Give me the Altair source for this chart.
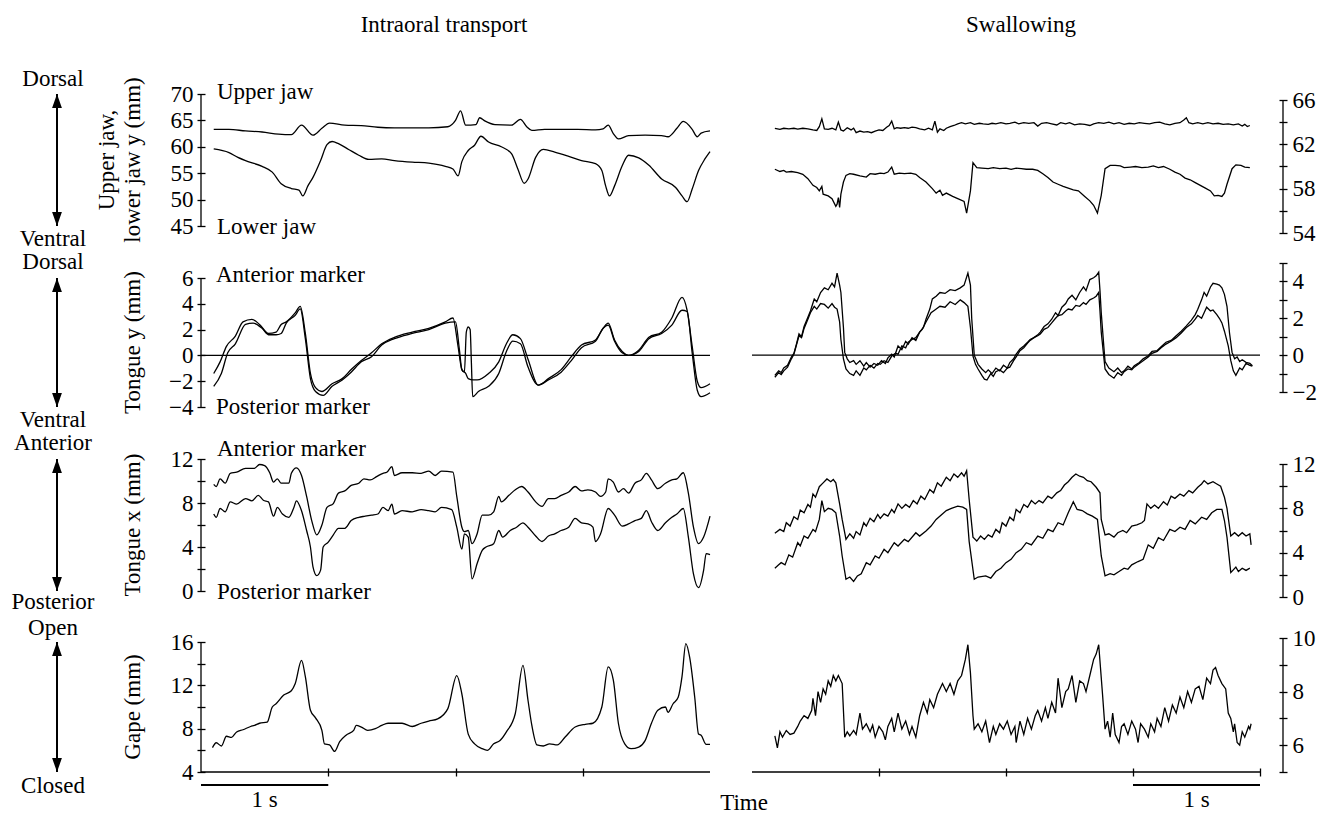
import altair as alt
import pandas as pd

FONT = "Liberation Serif"
FS = 23
INK = "black"

# ---------------- data: (time in s, value in mm) ----------------
L_UPPER_JAW = [(0.10,63.3),(0.22,63.3),(0.35,63.0),(0.48,62.8),(0.61,62.4),(0.71,62.3),(0.79,64.1),(0.88,62.2),(0.95,63.5),(1.01,64.5),(1.13,64.1),(1.26,64.0),(1.39,63.7),(1.52,63.6),(1.66,63.6),(1.79,63.6),(1.94,63.8),(2.00,65.0),(2.04,66.8),(2.08,64.1),(2.16,64.2),(2.19,65.5),(2.23,64.9),(2.31,64.2),(2.44,64.1),(2.51,65.2),(2.56,63.8),(2.60,63.1),(2.70,63.3),(2.83,63.3),(2.96,63.3),(3.10,63.2),(3.16,63.4),(3.20,64.1),(3.24,62.5),(3.28,61.5),(3.36,62.1),(3.49,62.2),(3.62,62.1),(3.67,61.9),(3.74,63.5),(3.79,64.8),(3.86,63.3),(3.90,61.9),(3.93,62.6),(4.00,63.0)]
L_LOWER_JAW = [(0.10,59.6),(0.22,58.9),(0.29,58.0),(0.37,57.2),(0.48,56.3),(0.56,55.2),(0.63,53.0),(0.71,52.1),(0.77,51.8),(0.80,50.7),(0.84,52.6),(0.88,54.2),(0.94,57.4),(0.99,60.4),(1.03,61.0),(1.08,60.6),(1.16,59.5),(1.24,58.4),(1.32,57.6),(1.42,57.7),(1.52,57.4),(1.66,57.1),(1.79,56.9),(1.92,56.3),(1.98,55.8),(2.02,54.5),(2.05,57.2),(2.10,59.3),(2.15,60.3),(2.20,62.0),(2.26,60.9),(2.36,60.0),(2.44,58.7),(2.49,55.8),(2.54,53.1),(2.57,53.9),(2.63,58.0),(2.69,59.5),(2.78,59.0),(2.89,58.2),(2.99,57.4),(3.10,56.8),(3.15,55.5),(3.18,52.6),(3.21,50.7),(3.25,52.6),(3.31,56.4),(3.36,58.4),(3.44,57.9),(3.52,56.5),(3.62,53.9),(3.73,52.3),(3.78,50.7),(3.82,49.6),(3.86,52.0),(3.91,55.5),(3.96,57.7),(4.00,59.1)]

L_TONGUE_Y_ANT = [(0.10,-1.4),(0.15,-0.5),(0.20,0.7),(0.27,1.5),(0.33,2.6),(0.40,2.8),(0.46,2.4),(0.53,1.7),(0.59,1.8),(0.63,2.4),(0.67,2.6),(0.74,3.3),(0.78,3.8),(0.82,1.7),(0.86,-1.4),(0.90,-2.5),(0.95,-2.8),(1.03,-2.2),(1.11,-1.8),(1.18,-1.1),(1.26,-0.4),(1.34,0.2),(1.42,0.9),(1.52,1.4),(1.66,1.8),(1.79,2.1),(1.92,2.6),(1.98,2.9),(2.02,0.7),(2.05,-1.1),(2.08,-1.4),(2.10,-1.8),(2.14,-1.9),(2.17,-1.9),(2.26,-1.4),(2.34,-0.5),(2.40,0.9),(2.45,1.6),(2.51,1.3),(2.57,-0.3),(2.65,-2.3),(2.73,-1.8),(2.83,-1.1),(2.91,-0.1),(2.99,0.8),(3.10,1.2),(3.16,2.1),(3.20,2.5),(3.25,1.2),(3.31,0.3),(3.36,0.0),(3.44,0.4),(3.52,1.4),(3.62,1.8),(3.70,2.9),(3.78,4.5),(3.82,3.5),(3.86,0.7),(3.90,-2.0),(3.93,-2.5),(4.00,-2.2)]
L_TONGUE_Y_POS = [(0.10,-2.4),(0.16,-1.4),(0.21,0.2),(0.27,0.9),(0.35,2.4),(0.41,2.5),(0.48,2.1),(0.53,1.6),(0.59,1.6),(0.63,1.7),(0.67,2.5),(0.74,3.1),(0.78,3.6),(0.82,1.3),(0.86,-1.8),(0.90,-2.8),(0.96,-3.1),(1.03,-2.4),(1.11,-1.9),(1.18,-1.3),(1.26,-0.5),(1.34,-0.1),(1.42,0.8),(1.52,1.3),(1.66,1.7),(1.79,2.0),(1.92,2.5),(2.00,2.6),(2.03,0.5),(2.05,-1.1),(2.07,-1.3),(2.085,1.8),(2.10,2.2),(2.115,2.0),(2.125,-0.6),(2.135,-3.2),(2.18,-2.8),(2.26,-2.4),(2.34,-1.4),(2.40,0.3),(2.45,1.1),(2.51,0.9),(2.57,-0.9),(2.65,-2.3),(2.73,-1.9),(2.83,-1.3),(2.91,-0.4),(2.99,0.6),(3.10,1.1),(3.16,2.1),(3.20,2.35),(3.25,1.1),(3.31,0.2),(3.36,0.0),(3.44,0.3),(3.52,1.3),(3.62,1.7),(3.70,2.35),(3.78,3.5),(3.82,3.4),(3.86,0.2),(3.90,-2.7),(3.93,-3.2),(4.00,-2.9)]

L_TONGUE_X_ANT = [(0.10,9.7),(0.12,9.5),(0.15,10.2),(0.19,9.8),(0.23,10.7),(0.28,10.8),(0.35,11.15),(0.42,11.15),(0.46,11.5),(0.50,11.4),(0.54,10.75),(0.57,9.9),(0.60,10.2),(0.63,9.8),(0.69,9.8),(0.71,10.7),(0.75,11.2),(0.79,10.5),(0.83,8.6),(0.87,6.4),(0.91,5.1),(0.95,6.0),(0.99,7.6),(1.04,7.95),(1.08,8.9),(1.13,9.1),(1.18,9.6),(1.24,9.8),(1.28,10.2),(1.33,10.1),(1.38,10.4),(1.43,10.7),(1.46,10.8),(1.50,11.3),(1.52,10.5),(1.58,10.75),(1.66,10.75),(1.73,10.7),(1.79,10.9),(1.84,10.5),(1.89,10.9),(1.98,10.8),(2.01,8.6),(2.05,5.8),(2.07,5.4),(2.10,5.5),(2.13,4.3),(2.17,5.2),(2.21,6.9),(2.26,6.9),(2.30,7.2),(2.34,8.6),(2.36,8.1),(2.42,8.7),(2.47,9.2),(2.52,9.5),(2.57,9.0),(2.63,8.1),(2.68,7.7),(2.73,8.4),(2.78,8.4),(2.83,8.7),(2.89,9.0),(2.94,9.5),(2.99,9.1),(3.04,9.2),(3.10,9.0),(3.14,8.6),(3.18,9.0),(3.20,10.2),(3.24,9.9),(3.28,9.0),(3.32,9.3),(3.36,8.9),(3.41,9.8),(3.46,10.1),(3.50,10.7),(3.54,10.1),(3.59,9.3),(3.65,9.8),(3.70,10.1),(3.74,10.2),(3.79,10.75),(3.83,8.9),(3.87,5.8),(3.91,4.3),(3.95,4.9),(4.00,6.8)]
L_TONGUE_X_POS = [(0.10,7.0),(0.12,6.7),(0.15,7.5),(0.19,7.2),(0.23,8.1),(0.28,7.9),(0.35,8.4),(0.40,8.2),(0.45,8.7),(0.49,8.25),(0.53,8.1),(0.57,6.8),(0.60,7.6),(0.64,7.0),(0.69,6.7),(0.73,7.6),(0.75,8.2),(0.79,7.3),(0.83,5.5),(0.86,4.0),(0.88,2.2),(0.91,1.4),(0.94,1.9),(0.96,4.0),(1.00,4.45),(1.04,5.1),(1.08,5.7),(1.13,5.7),(1.18,6.4),(1.24,6.7),(1.29,6.8),(1.34,6.9),(1.39,7.0),(1.43,7.6),(1.47,7.3),(1.50,7.9),(1.52,7.0),(1.58,7.3),(1.66,7.2),(1.73,7.4),(1.79,7.3),(1.84,7.2),(1.89,7.6),(1.97,7.4),(2.01,5.8),(2.05,3.8),(2.07,5.2),(2.10,4.9),(2.13,1.1),(2.17,2.5),(2.21,3.7),(2.24,4.0),(2.30,4.3),(2.34,5.5),(2.37,4.9),(2.43,5.5),(2.48,5.8),(2.53,6.2),(2.57,5.8),(2.63,5.0),(2.68,4.5),(2.73,5.0),(2.78,5.2),(2.83,5.5),(2.89,5.8),(2.94,6.6),(2.99,6.2),(3.04,6.1),(3.08,5.8),(3.10,4.5),(3.14,5.2),(3.20,7.5),(3.25,6.9),(3.31,5.9),(3.36,6.1),(3.41,6.4),(3.46,6.6),(3.50,7.3),(3.54,6.3),(3.59,5.5),(3.65,6.2),(3.70,6.7),(3.74,7.0),(3.79,7.5),(3.83,4.9),(3.87,1.55),(3.91,0.3),(3.95,1.9),(3.97,3.4),(4.00,3.3)]

L_GAPE = [(0.09,6.25),(0.12,6.7),(0.16,6.4),(0.20,7.3),(0.24,7.2),(0.28,7.7),(0.33,7.9),(0.39,8.2),(0.42,8.3),(0.46,8.5),(0.52,8.6),(0.56,10.0),(0.59,10.3),(0.65,11.1),(0.71,11.5),(0.74,12.15),(0.79,14.3),(0.82,12.8),(0.86,9.7),(0.90,9.0),(0.95,7.85),(0.97,6.6),(1.01,6.5),(1.05,5.9),(1.09,6.8),(1.14,7.4),(1.20,7.85),(1.22,8.3),(1.26,8.15),(1.31,7.85),(1.37,8.0),(1.42,8.3),(1.47,8.5),(1.58,8.5),(1.66,8.2),(1.73,8.5),(1.79,8.7),(1.86,8.9),(1.94,9.85),(2.01,12.9),(2.05,11.2),(2.10,7.5),(2.15,6.6),(2.21,6.15),(2.25,6.0),(2.30,6.6),(2.35,6.9),(2.40,7.7),(2.47,9.4),(2.53,13.85),(2.57,10.6),(2.60,8.3),(2.64,6.5),(2.69,6.4),(2.74,6.6),(2.80,6.5),(2.86,7.2),(2.94,8.15),(3.02,8.4),(3.08,8.5),(3.15,10.0),(3.20,13.7),(3.24,12.5),(3.28,8.5),(3.33,6.6),(3.38,6.15),(3.44,6.3),(3.49,6.9),(3.54,8.5),(3.59,9.7),(3.65,10.0),(3.67,9.5),(3.71,10.3),(3.75,10.9),(3.78,12.8),(3.81,15.85),(3.84,14.6),(3.88,10.9),(3.91,7.5),(3.93,7.4),(3.97,6.55),(4.00,6.55)]

R_UPPER_JAW = [(0.18,63.45),(0.22,63.35),(0.25,63.45),(0.29,63.40),(0.33,63.45),(0.36,63.38),(0.40,63.45),(0.44,63.40),(0.48,63.30),(0.51,63.25),(0.53,63.60),(0.55,64.30),(0.57,63.40),(0.60,63.35),(0.63,63.45),(0.66,63.30),(0.68,64.00),(0.70,63.30),(0.72,63.20),(0.75,63.50),(0.78,63.30),(0.80,63.45),(0.82,63.05),(0.85,63.20),(0.88,63.10),(0.91,63.15),(0.94,63.05),(0.97,63.20),(1.00,63.30),(1.03,63.25),(1.06,63.55),(1.08,63.70),(1.10,64.10),(1.12,63.40),(1.14,63.50),(1.17,63.45),(1.20,63.50),(1.23,63.45),(1.26,63.55),(1.29,63.50),(1.32,63.40),(1.36,63.30),(1.39,63.45),(1.42,63.30),(1.44,64.10),(1.46,63.10),(1.48,63.40),(1.51,63.25),(1.53,63.45),(1.56,63.60),(1.59,63.70),(1.62,63.85),(1.65,63.95),(1.68,63.85),(1.72,63.95),(1.75,63.80),(1.79,63.90),(1.82,63.85),(1.86,63.80),(1.89,63.90),(1.92,63.85),(1.96,63.95),(2.00,63.85),(2.03,63.90),(2.07,64.00),(2.10,63.85),(2.14,63.95),(2.18,63.90),(2.22,63.95),(2.25,63.65),(2.28,63.90),(2.32,63.95),(2.36,63.85),(2.40,63.75),(2.43,63.95),(2.47,63.85),(2.50,63.95),(2.54,63.75),(2.58,63.85),(2.62,63.80),(2.66,63.70),(2.69,63.85),(2.73,63.95),(2.77,63.90),(2.81,64.00),(2.85,63.85),(2.89,63.95),(2.93,63.80),(2.97,63.90),(3.01,63.85),(3.05,63.95),(3.09,63.90),(3.13,63.85),(3.17,63.95),(3.21,64.00),(3.25,63.85),(3.29,63.75),(3.33,63.90),(3.37,63.95),(3.40,64.20),(3.42,64.40),(3.44,63.95),(3.47,63.85),(3.51,63.95),(3.55,63.85),(3.59,63.95),(3.63,63.85),(3.67,63.90),(3.71,63.80),(3.75,63.85),(3.79,63.75),(3.83,63.85),(3.86,63.65),(3.88,63.80),(3.90,63.60),(3.92,63.70)]
R_LOWER_JAW = [(0.18,59.75),(0.22,59.55),(0.25,59.65),(0.27,59.50),(0.31,59.55),(0.36,59.45),(0.40,59.30),(0.44,58.90),(0.48,58.30),(0.51,58.10),(0.53,57.80),(0.55,58.20),(0.56,57.50),(0.60,57.35),(0.63,57.10),(0.66,56.40),(0.67,56.60),(0.68,57.20),(0.69,56.30),(0.70,57.50),(0.72,58.60),(0.74,59.20),(0.77,59.35),(0.80,59.30),(0.85,59.15),(0.90,59.05),(0.93,59.35),(0.97,59.30),(1.01,59.40),(1.04,59.35),(1.07,59.50),(1.10,59.95),(1.12,59.30),(1.16,59.40),(1.20,59.35),(1.25,59.40),(1.29,59.30),(1.32,59.00),(1.37,58.60),(1.42,58.00),(1.45,57.60),(1.48,57.85),(1.50,57.40),(1.53,57.60),(1.58,57.30),(1.62,57.10),(1.67,56.85),(1.69,55.80),(1.72,57.80),(1.74,60.35),(1.77,59.90),(1.81,59.85),(1.86,59.80),(1.90,59.90),(1.95,59.80),(2.00,59.85),(2.04,59.75),(2.08,59.85),(2.12,59.80),(2.16,59.75),(2.21,59.75),(2.25,59.65),(2.29,59.35),(2.33,59.00),(2.37,58.60),(2.41,58.40),(2.45,58.20),(2.49,58.05),(2.53,57.90),(2.57,57.80),(2.62,57.30),(2.66,56.90),(2.69,56.50),(2.72,55.80),(2.75,57.40),(2.78,59.80),(2.82,60.10),(2.86,60.10),(2.90,60.05),(2.93,59.90),(2.98,59.95),(3.02,60.00),(3.07,59.90),(3.12,59.95),(3.16,60.05),(3.20,59.90),(3.24,60.00),(3.29,59.75),(3.33,59.50),(3.37,59.30),(3.41,58.95),(3.45,58.80),(3.49,58.55),(3.53,58.30),(3.57,58.05),(3.61,57.80),(3.64,57.35),(3.67,57.40),(3.70,57.30),(3.72,57.60),(3.74,58.40),(3.78,59.80),(3.81,60.15),(3.85,60.10),(3.88,59.95),(3.92,59.90)]

R_TONGUE_Y_ANT = [(0.18,-1.10),(0.21,-0.85),(0.23,-0.95),(0.25,-0.70),(0.28,-0.55),(0.31,-0.10),(0.33,0.10),(0.35,0.60),(0.37,1.15),(0.39,1.00),(0.41,1.55),(0.44,2.05),(0.46,2.40),(0.49,3.05),(0.51,2.90),(0.54,3.40),(0.57,3.65),(0.60,3.55),(0.63,3.90),(0.65,3.70),(0.67,4.45),(0.69,3.80),(0.70,3.40),(0.72,1.50),(0.73,0.15),(0.75,-0.20),(0.77,-0.40),(0.80,-0.30),(0.82,-0.50),(0.85,-0.30),(0.88,-0.60),(0.90,-0.40),(0.93,-0.65),(0.96,-0.45),(0.99,-0.55),(1.02,-0.30),(1.05,-0.45),(1.07,-0.15),(1.10,0.05),(1.12,-0.10),(1.15,0.50),(1.18,0.30),(1.21,0.75),(1.23,0.60),(1.26,0.95),(1.29,0.80),(1.32,1.25),(1.35,1.50),(1.37,1.95),(1.40,2.50),(1.42,3.05),(1.45,3.20),(1.48,3.40),(1.52,3.35),(1.56,3.55),(1.60,3.50),(1.64,3.65),(1.67,3.80),(1.70,4.45),(1.72,3.80),(1.73,2.00),(1.75,0.00),(1.78,-0.50),(1.81,-0.75),(1.84,-0.95),(1.86,-0.80),(1.89,-1.00),(1.92,-0.70),(1.95,-0.85),(1.98,-0.55),(2.01,-0.70),(2.03,-0.40),(2.06,-0.20),(2.08,0.05),(2.11,0.33),(2.14,0.50),(2.17,0.70),(2.19,0.85),(2.22,0.95),(2.25,1.10),(2.27,1.25),(2.30,1.55),(2.33,1.70),(2.36,1.95),(2.39,2.30),(2.41,2.15),(2.44,2.60),(2.47,2.80),(2.49,3.05),(2.52,3.25),(2.55,3.00),(2.58,3.40),(2.61,3.70),(2.63,3.50),(2.66,4.10),(2.69,4.20),(2.71,4.30),(2.73,4.50),(2.74,3.50),(2.75,2.30),(2.77,0.50),(2.78,-0.35),(2.81,-0.70),(2.85,-0.90),(2.88,-0.70),(2.91,-0.95),(2.93,-0.85),(2.96,-0.60),(2.99,-0.75),(3.01,-0.57),(3.05,-0.40),(3.08,-0.20),(3.12,-0.03),(3.15,0.20),(3.19,0.25),(3.23,0.51),(3.26,0.70),(3.30,0.80),(3.34,1.05),(3.38,1.30),(3.42,1.59),(3.46,1.90),(3.49,2.20),(3.51,2.49),(3.54,3.00),(3.56,3.40),(3.58,3.20),(3.61,3.70),(3.63,3.90),(3.66,3.85),(3.68,3.80),(3.70,3.65),(3.72,3.30),(3.74,2.65),(3.76,1.20),(3.78,0.15),(3.80,-0.20),(3.82,-0.10),(3.84,-0.35),(3.86,-0.25),(3.89,-0.39),(3.92,-0.45),(3.94,-0.57)]
R_TONGUE_Y_POS = [(0.18,-1.20),(0.21,-0.95),(0.23,-1.05),(0.25,-0.85),(0.28,-0.65),(0.31,-0.20),(0.33,0.05),(0.35,0.55),(0.37,1.05),(0.39,0.95),(0.41,1.45),(0.44,1.95),(0.46,2.30),(0.49,2.65),(0.51,2.50),(0.54,2.80),(0.57,2.75),(0.60,2.55),(0.63,2.80),(0.65,2.60),(0.67,2.50),(0.69,1.80),(0.70,0.85),(0.72,-0.20),(0.74,-0.75),(0.77,-1.00),(0.80,-1.10),(0.82,-0.85),(0.85,-1.10),(0.88,-0.70),(0.90,-0.80),(0.93,-0.55),(0.96,-0.70),(0.99,-0.45),(1.01,-0.50),(1.04,-0.30),(1.07,-0.40),(1.10,-0.05),(1.13,0.10),(1.15,0.05),(1.18,0.50),(1.21,0.40),(1.23,0.70),(1.26,0.85),(1.29,0.95),(1.32,1.25),(1.34,1.40),(1.37,1.80),(1.41,2.30),(1.44,2.45),(1.48,2.65),(1.52,2.60),(1.56,2.90),(1.60,2.75),(1.64,3.00),(1.67,2.85),(1.70,2.65),(1.72,1.50),(1.74,-0.05),(1.76,-0.50),(1.78,-0.75),(1.81,-1.10),(1.83,-1.30),(1.85,-1.35),(1.88,-1.00),(1.90,-1.15),(1.92,-0.90),(1.95,-0.80),(1.98,-0.95),(2.01,-0.70),(2.03,-0.65),(2.06,-0.30),(2.08,-0.10),(2.11,0.24),(2.14,0.40),(2.17,0.65),(2.19,0.80),(2.22,0.95),(2.25,1.05),(2.27,1.15),(2.30,1.40),(2.33,1.50),(2.36,1.75),(2.39,2.00),(2.41,2.15),(2.44,2.20),(2.47,2.40),(2.49,2.50),(2.52,2.45),(2.55,2.70),(2.58,2.65),(2.61,2.85),(2.63,2.75),(2.66,3.00),(2.69,3.10),(2.71,3.20),(2.73,3.40),(2.74,2.40),(2.75,1.25),(2.77,-0.10),(2.78,-0.75),(2.81,-1.05),(2.85,-1.25),(2.88,-0.95),(2.91,-1.10),(2.93,-0.90),(2.96,-0.75),(2.99,-0.80),(3.01,-0.65),(3.05,-0.45),(3.08,-0.30),(3.12,-0.10),(3.15,0.10),(3.19,0.20),(3.23,0.45),(3.26,0.60),(3.30,0.75),(3.34,0.95),(3.38,1.20),(3.42,1.50),(3.46,1.70),(3.49,1.95),(3.51,2.15),(3.54,2.00),(3.56,2.30),(3.58,2.60),(3.61,2.40),(3.63,2.45),(3.66,2.20),(3.68,2.00),(3.70,1.75),(3.72,1.30),(3.75,0.50),(3.77,-0.30),(3.79,-0.85),(3.81,-1.10),(3.84,-0.70),(3.86,-0.80),(3.89,-0.45),(3.92,-0.55),(3.94,-0.60)]

R_TONGUE_X_ANT = [(0.18,5.75),(0.22,6.10),(0.25,5.90),(0.27,6.70),(0.30,6.40),(0.33,7.25),(0.36,7.00),(0.38,7.85),(0.41,7.60),(0.44,8.35),(0.46,8.10),(0.48,9.30),(0.50,9.00),(0.53,9.95),(0.56,10.30),(0.59,10.65),(0.62,10.40),(0.64,10.60),(0.66,10.30),(0.69,8.40),(0.71,7.00),(0.74,5.20),(0.77,5.70),(0.80,5.30),(0.82,5.90),(0.85,5.60),(0.88,6.70),(0.90,6.40),(0.93,7.10),(0.96,6.80),(0.99,7.45),(1.01,7.10),(1.04,7.50),(1.07,7.30),(1.10,7.90),(1.12,7.60),(1.15,8.40),(1.18,8.00),(1.21,8.35),(1.24,8.10),(1.27,8.70),(1.30,8.40),(1.33,9.10),(1.36,8.80),(1.40,9.70),(1.43,9.40),(1.46,10.30),(1.49,10.00),(1.53,10.80),(1.56,10.50),(1.59,11.10),(1.62,10.80),(1.65,11.20),(1.67,10.90),(1.69,11.40),(1.71,8.80),(1.74,5.40),(1.77,5.05),(1.80,5.50),(1.83,5.20),(1.86,5.60),(1.89,5.40),(1.92,6.10),(1.95,5.80),(1.97,6.70),(2.00,6.40),(2.03,7.20),(2.06,6.90),(2.08,7.90),(2.11,7.60),(2.14,8.35),(2.17,8.10),(2.20,8.70),(2.23,8.40),(2.26,8.70),(2.29,8.50),(2.33,9.10),(2.36,8.90),(2.40,9.40),(2.43,9.60),(2.46,10.10),(2.49,10.40),(2.52,10.80),(2.55,11.10),(2.58,10.90),(2.61,10.80),(2.64,10.50),(2.67,10.40),(2.71,9.90),(2.74,9.40),(2.75,7.00),(2.78,5.60),(2.81,5.70),(2.85,5.40),(2.88,5.80),(2.92,6.00),(2.95,5.80),(2.99,6.40),(3.03,6.50),(3.07,6.70),(3.09,6.90),(3.11,8.40),(3.14,8.00),(3.17,8.30),(3.20,8.00),(3.24,8.60),(3.27,8.30),(3.30,9.10),(3.33,8.90),(3.37,9.30),(3.40,9.10),(3.44,9.60),(3.47,9.40),(3.51,9.90),(3.54,10.20),(3.56,10.50),(3.59,10.20),(3.63,10.40),(3.66,10.20),(3.69,10.00),(3.72,9.00),(3.74,8.00),(3.77,5.50),(3.80,5.80),(3.83,5.50),(3.86,5.80),(3.89,5.50),(3.92,5.70),(3.93,4.70)]
R_TONGUE_X_POS = [(0.18,2.60),(0.21,2.90),(0.23,3.10),(0.26,2.90),(0.29,3.80),(0.32,3.60),(0.36,4.90),(0.38,4.60),(0.41,5.50),(0.44,5.30),(0.48,6.10),(0.50,5.90),(0.53,7.00),(0.55,8.70),(0.57,7.70),(0.60,8.00),(0.63,7.90),(0.66,7.60),(0.69,5.50),(0.71,3.70),(0.74,1.60),(0.77,1.80),(0.80,1.40),(0.83,1.90),(0.86,2.10),(0.90,3.10),(0.93,2.90),(0.97,3.70),(1.00,3.50),(1.04,4.30),(1.07,4.00),(1.12,4.90),(1.15,4.60),(1.20,5.20),(1.23,5.00),(1.29,5.80),(1.32,5.50),(1.37,5.95),(1.41,6.40),(1.45,7.00),(1.49,7.40),(1.53,7.80),(1.57,8.00),(1.62,8.20),(1.66,8.10),(1.69,7.90),(1.71,5.00),(1.75,1.60),(1.78,1.80),(1.84,1.90),(1.88,1.70),(1.92,2.30),(1.96,2.60),(2.00,3.10),(2.04,3.40),(2.08,4.00),(2.12,4.30),(2.16,4.90),(2.20,4.70),(2.25,5.50),(2.29,5.30),(2.33,6.10),(2.37,5.90),(2.41,6.70),(2.45,6.50),(2.49,7.60),(2.53,8.60),(2.56,7.90),(2.60,7.80),(2.64,7.50),(2.68,7.30),(2.72,7.00),(2.75,3.70),(2.78,1.90),(2.82,2.10),(2.85,2.00),(2.89,2.30),(2.93,2.60),(2.96,2.50),(2.99,2.90),(3.04,3.20),(3.08,3.40),(3.12,4.70),(3.16,4.40),(3.20,5.35),(3.24,5.10),(3.29,6.10),(3.33,5.90),(3.37,6.30),(3.41,6.10),(3.45,6.90),(3.49,6.60),(3.54,7.20),(3.58,7.00),(3.62,7.60),(3.66,7.90),(3.70,7.90),(3.72,6.90),(3.74,5.40),(3.77,2.20),(3.81,2.70),(3.83,2.30),(3.86,2.60),(3.89,2.40),(3.92,2.60)]

R_GAPE = [(0.18,6.35),(0.20,5.90),(0.22,6.50),(0.24,6.30),(0.27,6.55),(0.30,6.40),(0.33,6.45),(0.36,6.70),(0.38,6.90),(0.41,7.10),(0.44,7.00),(0.47,7.30),(0.48,7.75),(0.50,7.10),(0.52,8.00),(0.54,7.60),(0.56,8.10),(0.58,7.90),(0.60,8.40),(0.62,8.20),(0.64,8.60),(0.66,8.40),(0.68,8.60),(0.71,8.30),(0.73,6.30),(0.75,6.50),(0.77,6.35),(0.80,6.55),(0.82,6.40),(0.85,7.20),(0.87,6.60),(0.90,6.80),(0.93,6.50),(0.95,6.75),(0.97,6.30),(1.00,6.70),(1.03,6.50),(1.05,6.20),(1.07,6.70),(1.10,7.00),(1.12,6.50),(1.15,7.20),(1.18,6.60),(1.21,6.90),(1.24,6.40),(1.26,6.70),(1.29,6.30),(1.32,7.10),(1.35,7.60),(1.38,7.20),(1.40,7.70),(1.43,7.40),(1.46,7.90),(1.50,8.30),(1.53,8.00),(1.56,8.30),(1.59,7.90),(1.62,8.40),(1.65,8.60),(1.68,9.20),(1.70,9.75),(1.72,8.70),(1.74,7.10),(1.75,6.60),(1.78,6.80),(1.81,6.50),(1.84,6.90),(1.87,6.10),(1.90,6.70),(1.92,6.40),(1.95,6.80),(1.98,6.60),(2.01,6.90),(2.04,6.40),(2.07,6.70),(2.08,6.10),(2.11,6.90),(2.14,6.40),(2.17,7.00),(2.20,6.60),(2.23,7.10),(2.25,7.30),(2.28,6.90),(2.31,7.40),(2.33,7.00),(2.36,7.60),(2.39,7.20),(2.41,8.50),(2.44,7.40),(2.47,8.00),(2.49,8.10),(2.52,8.60),(2.55,7.60),(2.58,8.40),(2.61,8.30),(2.63,8.00),(2.66,8.60),(2.69,9.20),(2.71,9.40),(2.73,9.75),(2.76,7.90),(2.78,6.60),(2.80,6.90),(2.82,6.30),(2.84,7.20),(2.86,6.40),(2.89,6.10),(2.91,6.70),(2.93,6.80),(2.96,6.40),(2.99,6.90),(3.02,6.60),(3.04,6.10),(3.06,6.80),(3.09,6.60),(3.12,6.30),(3.14,6.80),(3.17,6.50),(3.19,7.00),(3.22,6.70),(3.25,7.40),(3.28,6.90),(3.31,7.50),(3.34,7.20),(3.37,7.80),(3.40,7.40),(3.43,8.00),(3.46,7.60),(3.49,8.10),(3.52,8.20),(3.55,7.70),(3.58,8.50),(3.61,8.30),(3.63,8.80),(3.65,8.90),(3.67,8.60),(3.70,8.30),(3.73,8.10),(3.75,7.20),(3.77,7.00),(3.79,6.50),(3.80,6.80),(3.82,6.10),(3.84,6.00),(3.86,6.50),(3.88,6.30),(3.91,6.70),(3.92,6.60),(3.93,6.80)]

# axis ticks and which of them carry labels
L1_TICKS, L1_LAB = [45, 50, 55, 60, 65, 70], [45, 50, 55, 60, 65, 70]
L2_TICKS, L2_LAB = [-4, -2, 0, 2, 4, 6], [-4, -2, 0, 2, 4, 6]
L3_TICKS, L3_LAB = [0, 2, 4, 6, 8, 10, 12], [0, 4, 8, 12]
L4_TICKS, L4_LAB = [4, 6, 8, 10, 12, 14, 16], [4, 8, 12, 16]
R1_TICKS, R1_LAB = [54, 56, 58, 60, 62, 64, 66], [54, 58, 62, 66]
R2_TICKS, R2_LAB = [-2, -1, 0, 1, 2, 3, 4, 5], [-2, 0, 2, 4]
R3_TICKS, R3_LAB = [0, 2, 4, 6, 8, 10, 12], [0, 4, 8, 12]
R4_TICKS, R4_LAB = [5, 6, 7, 8, 9, 10], [6, 8, 10]
L_TIME_TICKS = [1, 2, 3]
R_TIME_TICKS = [1, 2, 3, 4]

# ---------------- layout (pixels) ----------------
LEFT_W, RIGHT_W = 509, 508
COL_GAP = 42
ROW_TOP = [86, 250, 430, 615]
ROW_H = [164, 180, 185, 157]
# (value at top tick, its pixel row, value at bottom tick, its pixel row)
PIX = {
    "L1": (70, 94, 45, 226), "L2": (6, 278, -4, 407),
    "L3": (12, 459, 0, 591), "L4": (16, 642, 4, 772),
    "R1": (66, 100, 54, 233), "R2": (5, 263, -2, 392),
    "R3": (12, 464, 0, 597), "R4": (10, 638, 5, 772),
}
ONE = pd.DataFrame({"k": [0]})


def frame(named):
    rows = []
    for name, pts in named:
        for t, v in pts:
            rows.append({"t": t, "v": v, "s": name})
    return pd.DataFrame(rows)


def setup(key, row, side, ticks, shown, xticks=None):
    vt, pt, vb, pb = PIX[key]
    top, h = ROW_TOP[row], ROW_H[row]
    s = (vt - vb) / (pb - pt)
    dom = [vb - (top + h - pb) * s, vt + (pt - top) * s]
    shown_js = "[" + ",".join(str(v) for v in shown) + "]"
    yaxis = alt.Axis(
        orient="left" if side == "L" else "right", values=ticks,
        labelExpr=f"indexof({shown_js}, datum.value) >= 0 ? datum.label : ''",
        domain=False, grid=False, ticks=True, tickSize=8, tickWidth=1.3,
        tickColor=INK, offset=-4 if side == "L" else 19, labelFont=FONT,
        labelFontSize=FS, labelColor=INK, labelPadding=4 if side == "L" else 5,
        labelFlush=False, labelOverlap=False, labelBound=False, title=None)
    if xticks is None:
        xaxis = None
    else:
        xaxis = alt.Axis(values=xticks, labels=False, domain=False, grid=False,
                         tickSize=8, tickWidth=1.3, tickColor=INK, offset=-4,
                         title=None)
    return {
        "ys": alt.Scale(domain=dom, nice=False, zero=False),
        "xs": alt.Scale(domain=[0, 4], nice=False, zero=False),
        "yaxis": yaxis, "xaxis": xaxis, "h": h,
        "w": LEFT_W if side == "L" else RIGHT_W, "side": side,
        "ticks": ticks,
    }


def YD(S, v):
    return alt.YDatum(v, type="quantitative", scale=S["ys"], axis=S["yaxis"])


def XD(S, v):
    return alt.XDatum(v, type="quantitative", scale=S["xs"], axis=S["xaxis"])


def base_layers(S, named, zero=False):
    interp = "monotone" if S["side"] == "L" else "linear"
    layers = [alt.Chart(frame(named)).mark_line(
        color=INK, strokeWidth=1.3, interpolate=interp).encode(
        x=alt.X("t:Q", scale=S["xs"], axis=S["xaxis"]),
        y=alt.Y("v:Q", scale=S["ys"], axis=S["yaxis"]),
        detail="s:N")]
    ax = 0 if S["side"] == "L" else S["w"] + 23
    layers.append(alt.Chart(ONE).mark_rule(color=INK, strokeWidth=1.3).encode(
        x=alt.value(ax), y=YD(S, min(S["ticks"])), y2=alt.Y2Datum(max(S["ticks"]))))
    if zero:
        layers.append(alt.Chart(ONE).mark_rule(color=INK, strokeWidth=1.3).encode(
            y=YD(S, 0)))
    if S["xaxis"] is not None:
        layers.append(alt.Chart(ONE).mark_rule(color=INK, strokeWidth=1.3).encode(
            x=XD(S, 0), x2=alt.X2Datum(4), y=alt.value(S["h"])))
    return layers


def ytext(S, v, text, x, dy=0, align="left", angle=0, baseline="alphabetic"):
    return alt.Chart(ONE).mark_text(
        text=text, font=FONT, fontSize=FS, color=INK, align=align,
        baseline=baseline, dy=dy, angle=angle).encode(x=alt.value(x), y=YD(S, v))


def ptext(text, x, y, align="center"):
    return alt.Chart(ONE).mark_text(
        text=text, font=FONT, fontSize=FS, color=INK, align=align,
        baseline="alphabetic").encode(x=alt.value(x), y=alt.value(y))


def arrow(S, top_word, bottom_word, dy_top=-8, dy_bottom=21):
    lo, hi = min(S["ticks"]), max(S["ticks"])
    ax, tx = -144, -148
    return [
        alt.Chart(ONE).mark_rule(color=INK, strokeWidth=2).encode(
            x=alt.value(ax), y=YD(S, lo), y2=alt.Y2Datum(hi)),
        alt.Chart(ONE).mark_point(shape="M0,0L-0.7,2L0.7,2Z", filled=True, size=196,
                                  color=INK, opacity=1, strokeWidth=0).encode(
            x=alt.value(ax), y=YD(S, hi)),
        alt.Chart(ONE).mark_point(shape="M0,0L-0.7,-2L0.7,-2Z", filled=True, size=196,
                                  color=INK, opacity=1, strokeWidth=0).encode(
            x=alt.value(ax), y=YD(S, lo)),
        ytext(S, hi, top_word, tx, dy=dy_top, align="center"),
        ytext(S, lo, bottom_word, tx, dy=dy_bottom, align="center"),
    ]


def yt(S, v, text, x):
    return ytext(S, v, text, x, angle=270, align="center", baseline="middle")


# ---------------- left column ----------------
S = setup("L1", 0, "L", L1_TICKS, L1_LAB)
L1 = alt.layer(*base_layers(S, [("up", L_UPPER_JAW), ("lo", L_LOWER_JAW)]),
               ytext(S, 70, "Upper jaw", 16, dy=5), ytext(S, 45, "Lower jaw", 16, dy=8),
               *arrow(S, "Dorsal", "Ventral", dy_bottom=20),
               yt(S, 57.5, "Upper jaw,", -94), yt(S, 57.5, "lower jaw y (mm)", -68),
               ptext("Intraoral transport", 243, -54)
               ).properties(width=S["w"], height=S["h"])

S = setup("L2", 1, "L", L2_TICKS, L2_LAB)
L2 = alt.layer(*base_layers(S, [("a", L_TONGUE_Y_ANT), ("p", L_TONGUE_Y_POS)], zero=True),
               ytext(S, 6, "Anterior marker", 15, dy=4),
               ytext(S, -4, "Posterior marker", 15, dy=7),
               *arrow(S, "Dorsal", "Ventral", dy_top=-9, dy_bottom=20),
               yt(S, 1, "Tongue y (mm)", -68)
               ).properties(width=S["w"], height=S["h"])

S = setup("L3", 2, "L", L3_TICKS, L3_LAB)
L3 = alt.layer(*base_layers(S, [("a", L_TONGUE_X_ANT), ("p", L_TONGUE_X_POS)]),
               ytext(S, 12, "Anterior marker", 16, dy=-3),
               ytext(S, 0, "Posterior marker", 16, dy=8),
               *arrow(S, "Anterior", "Posterior", dy_top=-9, dy_bottom=18),
               yt(S, 6, "Tongue x (mm)", -68)
               ).properties(width=S["w"], height=S["h"])

S = setup("L4", 3, "L", L4_TICKS, L4_LAB, xticks=L_TIME_TICKS)
L4 = alt.layer(*base_layers(S, [("g", L_GAPE)]),
               *arrow(S, "Open", "Closed", dy_top=-7),
               yt(S, 10, "Gape (mm)", -68),
               alt.Chart(ONE).mark_rule(color=INK, strokeWidth=2).encode(
                   x=XD(S, 0), x2=alt.X2Datum(1), y=alt.value(S["h"] + 13)),
               alt.Chart(ONE).mark_text(text="1 s", font=FONT, fontSize=FS, color=INK,
                                        align="center", baseline="alphabetic").encode(
                   x=XD(S, 0.5), y=alt.value(S["h"] + 35)),
               ptext("Time", 543, S["h"] + 38)
               ).properties(width=S["w"], height=S["h"])

# ---------------- right column ----------------
S = setup("R1", 0, "R", R1_TICKS, R1_LAB)
R1 = alt.layer(*base_layers(S, [("up", R_UPPER_JAW), ("lo", R_LOWER_JAW)]),
               ptext("Swallowing", 269, -54)
               ).properties(width=S["w"], height=S["h"])

S = setup("R2", 1, "R", R2_TICKS, R2_LAB)
R2 = alt.layer(*base_layers(S, [("a", R_TONGUE_Y_ANT), ("p", R_TONGUE_Y_POS)], zero=True)
               ).properties(width=S["w"], height=S["h"])

S = setup("R3", 2, "R", R3_TICKS, R3_LAB)
R3 = alt.layer(*base_layers(S, [("a", R_TONGUE_X_ANT), ("p", R_TONGUE_X_POS)])
               ).properties(width=S["w"], height=S["h"])

S = setup("R4", 3, "R", R4_TICKS, R4_LAB, xticks=R_TIME_TICKS)
R4 = alt.layer(*base_layers(S, [("g", R_GAPE)]),
               alt.Chart(ONE).mark_rule(color=INK, strokeWidth=2).encode(
                   x=XD(S, 3), x2=alt.X2Datum(4), y=alt.value(S["h"] + 13)),
               alt.Chart(ONE).mark_text(text="1 s", font=FONT, fontSize=FS, color=INK,
                                        align="center", baseline="alphabetic").encode(
                   x=XD(S, 3.5), y=alt.value(S["h"] + 35))
               ).properties(width=S["w"], height=S["h"])

chart = alt.ConcatChart(
    concat=[L1, R1, L2, R2, L3, R3, L4, R4], columns=2,
    spacing={"row": 0, "column": COL_GAP}, bounds="flush",
).properties(
    padding={"left": 11, "top": 14, "right": 0, "bottom": 0}
).configure_view(stroke=None)

chart.save("out.html", embed_options={"renderer": "svg", "actions": False})
